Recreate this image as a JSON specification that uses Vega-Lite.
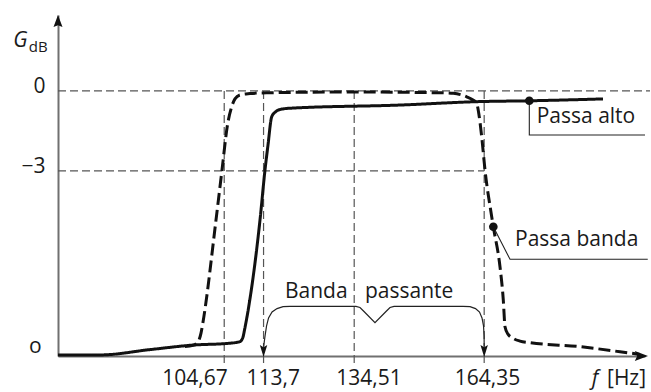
{
  "$schema": "https://vega.github.io/schema/vega-lite/v6.json",
  "width": 587,
  "height": 341,
  "autosize": "none",
  "padding": {"left": 58, "top": 15, "right": 6, "bottom": 36},
  "background": "white",
  "config": {"view": {"stroke": null}, "font": "Open Sans", "axis": {"grid": false}},
  "datasets": {
    "rules": [
      {"f": 66.51, "g": 0, "f2": 202.42, "g2": 0},
      {"f": 66.51, "g": -3, "f2": 164.35, "g2": -3},
      {"f": 104.67, "g": 0, "f2": 104.67, "g2": -10.21},
      {"f": 113.7, "g": 0, "f2": 113.7, "g2": -10.21},
      {"f": 134.51, "g": 0, "f2": 134.51, "g2": -10.21},
      {"f": 164.35, "g": 0, "f2": 164.35, "g2": -10.21}
    ],
    "curves": [
      {"s": "alto", "o": 1, "f": 66.51, "g": -9.91},
      {"s": "alto", "o": 2, "f": 76.15, "g": -9.91},
      {"s": "alto", "o": 3, "f": 87.63, "g": -9.71},
      {"s": "alto", "o": 4, "f": 97.5, "g": -9.54},
      {"s": "alto", "o": 5, "f": 106.0, "g": -9.47},
      {"s": "alto", "o": 6, "f": 108.29, "g": -9.41},
      {"s": "alto", "o": 7, "f": 108.98, "g": -9.24},
      {"s": "alto", "o": 8, "f": 109.33, "g": -8.97},
      {"s": "alto", "o": 9, "f": 112.88, "g": -4.85},
      {"s": "alto", "o": 10, "f": 114.03, "g": -2.97},
      {"s": "alto", "o": 11, "f": 114.72, "g": -2.03},
      {"s": "alto", "o": 12, "f": 115.57, "g": -0.97},
      {"s": "alto", "o": 13, "f": 116.56, "g": -0.77},
      {"s": "alto", "o": 14, "f": 117.7, "g": -0.69},
      {"s": "alto", "o": 15, "f": 119.77, "g": -0.65},
      {"s": "alto", "o": 16, "f": 145.02, "g": -0.53},
      {"s": "alto", "o": 17, "f": 163.39, "g": -0.4},
      {"s": "alto", "o": 18, "f": 174.87, "g": -0.37},
      {"s": "alto", "o": 19, "f": 191.63, "g": -0.3},
      {"s": "banda", "o": 1, "f": 95.66, "g": -9.59},
      {"s": "banda", "o": 2, "f": 97.5, "g": -9.55},
      {"s": "banda", "o": 3, "f": 98.42, "g": -9.46},
      {"s": "banda", "o": 4, "f": 98.88, "g": -9.35},
      {"s": "banda", "o": 5, "f": 99.34, "g": -9.09},
      {"s": "banda", "o": 6, "f": 99.68, "g": -8.79},
      {"s": "banda", "o": 7, "f": 102.78, "g": -4.85},
      {"s": "banda", "o": 8, "f": 104.16, "g": -2.97},
      {"s": "banda", "o": 9, "f": 105.42, "g": -1.28},
      {"s": "banda", "o": 10, "f": 106.39, "g": -0.59},
      {"s": "banda", "o": 11, "f": 107.14, "g": -0.3},
      {"s": "banda", "o": 12, "f": 108.29, "g": -0.15},
      {"s": "banda", "o": 13, "f": 110.59, "g": -0.1},
      {"s": "banda", "o": 14, "f": 114.42, "g": -0.07},
      {"s": "banda", "o": 15, "f": 133.54, "g": -0.04},
      {"s": "banda", "o": 16, "f": 154.21, "g": -0.07},
      {"s": "banda", "o": 17, "f": 157.26, "g": -0.09},
      {"s": "banda", "o": 18, "f": 160.34, "g": -0.22},
      {"s": "banda", "o": 19, "f": 161.78, "g": -0.34},
      {"s": "banda", "o": 20, "f": 162.63, "g": -0.47},
      {"s": "banda", "o": 21, "f": 163.16, "g": -0.9},
      {"s": "banda", "o": 22, "f": 163.78, "g": -1.72},
      {"s": "banda", "o": 23, "f": 164.54, "g": -2.97},
      {"s": "banda", "o": 24, "f": 166.08, "g": -4.72},
      {"s": "banda", "o": 25, "f": 166.45, "g": -5.1},
      {"s": "banda", "o": 26, "f": 167.98, "g": -6.6},
      {"s": "banda", "o": 27, "f": 168.74, "g": -7.85},
      {"s": "banda", "o": 28, "f": 169.13, "g": -8.85},
      {"s": "banda", "o": 29, "f": 169.82, "g": -9.13},
      {"s": "banda", "o": 30, "f": 171.04, "g": -9.29},
      {"s": "banda", "o": 31, "f": 172.57, "g": -9.39},
      {"s": "banda", "o": 32, "f": 174.87, "g": -9.45},
      {"s": "banda", "o": 33, "f": 186.35, "g": -9.6},
      {"s": "banda", "o": 34, "f": 195.53, "g": -9.79},
      {"s": "banda", "o": 35, "f": 200.12, "g": -9.89}
    ],
    "leaders": [
      {"s": "alto", "o": 1, "f": 174.71, "g": -0.37},
      {"s": "alto", "o": 2, "f": 174.71, "g": -1.655},
      {"s": "alto", "o": 3, "f": 201.27, "g": -1.655},
      {"s": "banda", "o": 1, "f": 166.45, "g": -5.1},
      {"s": "banda", "o": 2, "f": 170.28, "g": -6.32},
      {"s": "banda", "o": 3, "f": 201.9, "g": -6.32}
    ],
    "brace": [
      {"o": 1, "f": 113.72, "g": -9.6},
      {"o": 2, "f": 114.04, "g": -9.2},
      {"o": 3, "f": 114.39, "g": -8.82},
      {"o": 4, "f": 114.85, "g": -8.52},
      {"o": 5, "f": 115.65, "g": -8.3},
      {"o": 6, "f": 116.8, "g": -8.17},
      {"o": 7, "f": 118.18, "g": -8.1},
      {"o": 8, "f": 119.78, "g": -8.085},
      {"o": 9, "f": 134.92, "g": -8.085},
      {"o": 10, "f": 135.84, "g": -8.13},
      {"o": 11, "f": 136.76, "g": -8.28},
      {"o": 12, "f": 139.28, "g": -8.7},
      {"o": 13, "f": 141.81, "g": -8.28},
      {"o": 14, "f": 142.73, "g": -8.13},
      {"o": 15, "f": 143.65, "g": -8.085},
      {"o": 16, "f": 159.49, "g": -8.085},
      {"o": 17, "f": 161.1, "g": -8.1},
      {"o": 18, "f": 162.36, "g": -8.17},
      {"o": 19, "f": 163.28, "g": -8.3},
      {"o": 20, "f": 163.85, "g": -8.52},
      {"o": 21, "f": 164.2, "g": -8.82},
      {"o": 22, "f": 164.33, "g": -9.2},
      {"o": 23, "f": 164.35, "g": -9.6}
    ],
    "dots": [
      {"f": 174.71, "g": -0.37},
      {"f": 166.45, "g": -5.1}
    ],
    "arrows": [
      {"k": "down", "f": 113.7, "g": -9.99},
      {"k": "down", "f": 164.35, "g": -9.99},
      {"k": "right", "f": 201.96, "g": -9.95},
      {"k": "up", "f": 66.51, "g": 2.85}
    ],
    "labels": [
      {"t": "Passa alto", "f": 176.41, "g": -1.215},
      {"t": "Passa banda", "f": 171.43, "g": -5.833},
      {"t": "Banda", "f": 118.62, "g": -7.785},
      {"t": "passante", "f": 136.99, "g": -7.785},
      {"t": "[Hz]", "f": 192.55, "g": -11.039},
      {"t": "o", "f": 59.85, "g": -9.838}
    ],
    "xlabels": [
      {"t": "104,67", "f": 97.96, "g": -11.039},
      {"t": "113,7", "f": 115.94, "g": -11.039},
      {"t": "134,51", "f": 137.91, "g": -11.039},
      {"t": "164,35", "f": 165.11, "g": -11.039}
    ],
    "italics": [
      {"t": "G", "f": 56.25, "g": 1.66},
      {"t": "f", "f": 189.03, "g": -11.039}
    ],
    "small": [
      {"t": "dB", "f": 59.81, "g": 1.472}
    ]
  },
  "encoding": {
    "x": {
      "field": "f",
      "type": "quantitative",
      "scale": {"domain": [66.51, 201.27], "nice": false, "zero": false},
      "axis": {
        "labels": false,
        "ticks": false,
        "tickSize": 0,
        "domainColor": "#707070",
        "domainWidth": 2,
        "title": null,
        "grid": false
      }
    },
    "y": {
      "field": "g",
      "type": "quantitative",
      "scale": {"domain": [-9.95, 2.85], "nice": false, "zero": false},
      "axis": {
        "values": [0, -3],
        "labelExpr": "datum.value == 0 ? '0' : '−3'",
        "ticks": false,
        "tickSize": 0,
        "labelFontSize": 21,
        "labelFont": "Open Sans",
        "labelColor": "#1a1a1a",
        "labelBaseline": "alphabetic",
        "labelOffset": 2,
        "labelPadding": 13,
        "labelOverlap": false,
        "labelFlush": false,
        "domainColor": "#707070",
        "domainWidth": 2,
        "title": null,
        "grid": false
      }
    }
  },
  "layer": [
    {
      "data": {"name": "rules"},
      "mark": {"type": "rule", "color": "#555555", "strokeWidth": 1.2, "strokeDash": [8, 4]},
      "encoding": {"x2": {"field": "f2"}, "y2": {"field": "g2"}}
    },
    {
      "data": {"name": "brace"},
      "mark": {"type": "line", "color": "#222222", "strokeWidth": 1.2, "interpolate": "linear"},
      "encoding": {"order": {"field": "o", "type": "quantitative"}}
    },
    {
      "data": {"name": "curves"},
      "mark": {"type": "line", "color": "#111111", "strokeWidth": 3, "interpolate": "monotone"},
      "encoding": {
        "order": {"field": "o", "type": "quantitative"},
        "strokeDash": {
          "field": "s",
          "type": "nominal",
          "scale": {"domain": ["alto", "banda"], "range": [[1, 0], [12, 5]]},
          "legend": null
        }
      }
    },
    {
      "data": {"name": "leaders"},
      "mark": {"type": "line", "color": "#222222", "strokeWidth": 1.1},
      "encoding": {
        "detail": {"field": "s", "type": "nominal"},
        "order": {"field": "o", "type": "quantitative"}
      }
    },
    {
      "data": {"name": "dots"},
      "mark": {"type": "point", "shape": "circle", "filled": true, "size": 75, "color": "#111111", "opacity": 1}
    },
    {
      "data": {"name": "arrows"},
      "transform": [{"filter": "datum.k == 'down'"}],
      "mark": {"type": "point", "shape": "M0,0 L-0.62,-2 L0,-1.65 L0.62,-2 Z", "filled": true, "size": 144, "color": "#111111", "opacity": 1}
    },
    {
      "data": {"name": "arrows"},
      "transform": [{"filter": "datum.k == 'right'"}],
      "mark": {"type": "point", "shape": "M0,0 L-2.2,-0.85 L-1.8,0 L-2.2,0.85 Z", "filled": true, "size": 144, "color": "#111111", "opacity": 1}
    },
    {
      "data": {"name": "arrows"},
      "transform": [{"filter": "datum.k == 'up'"}],
      "mark": {"type": "point", "shape": "M0,0 L-0.75,2 L0,1.7 L0.75,2 Z", "filled": true, "size": 144, "color": "#111111", "opacity": 1}
    },
    {
      "data": {"name": "labels"},
      "mark": {"type": "text", "align": "left", "baseline": "alphabetic", "fontSize": 21, "font": "Open Sans", "color": "#1a1a1a"},
      "encoding": {"text": {"field": "t"}}
    },
    {
      "data": {"name": "xlabels"},
      "mark": {"type": "text", "align": "center", "baseline": "alphabetic", "fontSize": 21, "font": "Open Sans", "color": "#1a1a1a"},
      "encoding": {"text": {"field": "t"}}
    },
    {
      "data": {"name": "italics"},
      "mark": {"type": "text", "align": "left", "baseline": "alphabetic", "fontSize": 21, "font": "Open Sans", "fontStyle": "italic", "color": "#1a1a1a"},
      "encoding": {"text": {"field": "t"}}
    },
    {
      "data": {"name": "small"},
      "mark": {"type": "text", "align": "left", "baseline": "alphabetic", "fontSize": 15, "font": "Open Sans", "color": "#1a1a1a"},
      "encoding": {"text": {"field": "t"}}
    }
  ]
}
